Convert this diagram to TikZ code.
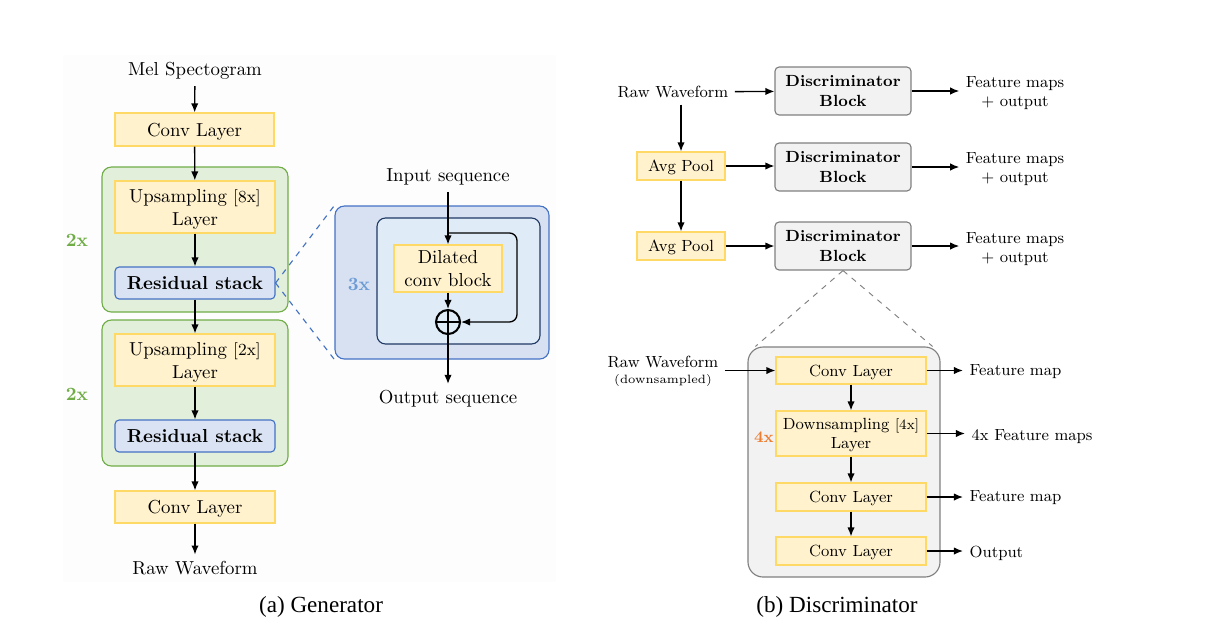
\documentclass[tikz,border=0pt]{standalone}
\usepackage{fontspec}
\newfontfamily\capfont{Liberation Serif}
\usetikzlibrary{arrows.meta,fit,calc}
\definecolor{ylwfill}{HTML}{FFF2CC}
\definecolor{ylwdraw}{HTML}{FFD966}
\definecolor{grnfill}{HTML}{E2EFDA}
\definecolor{grndraw}{HTML}{70AD47}
\definecolor{bluefill}{HTML}{DAE3F3}
\definecolor{bluedraw}{HTML}{4472C4}
\definecolor{zoomfill}{HTML}{D7E1F2}
\definecolor{innerfill}{HTML}{DFEBF7}
\definecolor{innerdraw}{HTML}{203864}
\definecolor{grayfill}{HTML}{F2F2F2}
\definecolor{graydraw}{HTML}{808080}
\definecolor{threex}{HTML}{6C9BD5}
\definecolor{orng}{HTML}{ED7D31}
\def\pxu{0.532pt}
\begin{document}
\begin{tikzpicture}[x=0.532pt,y=-0.532pt,
  bx/.style n args={2}{minimum width=#1*\pxu, minimum height=#2*\pxu},
  gtext/.style={font=\fontsize{10}{12.2}\selectfont, align=center},
  dtext/.style={font=\fontsize{8.6}{10.4}\selectfont, align=center},
  ybox/.style={fill=ylwfill, draw=ylwdraw, line width=0.6pt, inner sep=0pt, align=center, text depth=0pt},
  rbox/.style={fill=bluefill, draw=bluedraw, line width=0.6pt, inner sep=0pt, rounded corners=2.2pt, align=center, text depth=0pt, font=\fontsize{10}{12}\selectfont\bfseries},
  gbox/.style={fill=grnfill, draw=grndraw, line width=0.6pt, inner sep=0pt, rounded corners=5pt},
  dbox/.style={fill=grayfill, draw=graydraw, line width=0.6pt, inner sep=0pt, rounded corners=2.2pt, align=center, text depth=0pt, font=\fontsize{8.6}{10.4}\selectfont\bfseries},
  arr/.style={-{Latex[length=4.8pt,width=3.9pt]}, line width=0.7pt},
  mult/.style={font=\fontsize{10}{12}\selectfont\bfseries},
  captext/.style={font=\capfont\fontsize{12.3}{14}\selectfont}]
\path[use as bounding box] (0,0) rectangle (1211,638);
\fill[black!0.7] (63,55) rectangle (556,582);

% ---------------- Generator ----------------
\node[gbox, fit={(102,167) (288,312)}] (g1) {};
\node[gbox, fit={(102,320) (288,466)}] (g2) {};
\node[mult, text=grndraw] (m1) at (77,240) {2x};
\node[mult, text=grndraw] (m2) at (77,394) {2x};

\node[gtext] (mel) at (195,71) {Mel Spectogram};
\node[ybox, gtext, bx={159}{33}] (conv1) at (194.5,129.5) {Conv Layer};
\node[ybox, gtext, bx={160}{52}] (up1) at (195,207) {Upsampling {\small[8x]}\\Layer};
\node[rbox, bx={160}{32}] (rs1) at (195,283) {Residual stack};
\node[ybox, gtext, bx={160}{52}] (up2) at (195,360) {Upsampling {\small[2x]}\\Layer};
\node[rbox, bx={160}{32}] (rs2) at (195,436) {Residual stack};
\node[ybox, gtext, bx={160}{32}] (conv2) at (195,507) {Conv Layer};
\node[gtext] (rawg) at (195,568) {Raw Waveform};

\draw[arr] (mel) -- (conv1);
\draw[arr] (conv1) -- (up1);
\draw[arr] (up1) -- (rs1);
\draw[arr] (rs1) -- (up2);
\draw[arr] (up2) -- (rs2);
\draw[arr] (rs2) -- (conv2);
\draw[arr] (conv2) -- (rawg);

% residual stack zoom
\node[fill=zoomfill, draw=bluedraw, line width=0.6pt, rounded corners=5pt, inner sep=0pt, fit={(335,206) (549,359)}] (zo) {};
\node[fill=innerfill, draw=innerdraw, line width=0.6pt, rounded corners=4.5pt, inner sep=0pt, fit={(377,218) (540,344)}] (zi) {};
\draw[bluedraw, dashed, line width=0.6pt] (rs1.east) -- (zo.north west);
\draw[bluedraw, dashed, line width=0.6pt] (rs1.east) -- (zo.south west);
\node[mult, text=threex] (m3) at (359,284) {3x};
\node[gtext] (inseq) at (448,177) {Input sequence};
\node[ybox, gtext, bx={108}{47}] (dil) at (448,268.5) {Dilated\\conv block};
\node[circle, draw, line width=1.1pt, minimum size=24*\pxu, inner sep=0pt] (plus) at (448,322) {};
\draw[line width=1.1pt] (plus.north) -- (plus.south) (plus.west) -- (plus.east);
\node[gtext] (outseq) at (448,399) {Output sequence};
\coordinate (split) at (448,233);
\draw[arr] (inseq) -- (dil);
\draw[arr] (dil) -- (plus);
\draw[arr, rounded corners=4pt] (split) -- (517,233) -- (517,322) -- (plus.east);
\draw[arr] (plus) -- (outseq);

\node[captext] (capa) at (321,607) {(a) Generator};

% ---------------- Discriminator ----------------
\node[dtext] (rw) at (673,92) {Raw Waveform};
\node[dbox, bx={136}{48}] (d1) at (843,91) {Discriminator\\Block};
\node[dbox, bx={136}{48}] (d2) at (843,167) {Discriminator\\Block};
\node[dbox, bx={136}{48}] (d3) at (843,246) {Discriminator\\Block};
\node[ybox, dtext, bx={88}{28}] (ap1) at (681,166) {Avg Pool};
\node[ybox, dtext, bx={88}{28}] (ap2) at (681,246) {Avg Pool};
\node[dtext] (f1) at (1015,93) {Feature maps\\+ output};
\node[dtext] (f2) at (1015,169) {Feature maps\\+ output};
\node[dtext] (f3) at (1015,249) {Feature maps\\+ output};

\draw[arr] (rw) -- (d1);
\draw[arr] (d1) -- (d1 -| f1.west);
\draw[arr] (rw.south -| ap1.north) -- (ap1);
\draw[arr] (ap1) -- (ap2);
\draw[arr] (ap1) -- (ap1 -| d2.west);
\draw[arr] (ap2) -- (ap2 -| d3.west);
\draw[arr] (d2) -- (d2 -| f2.west);
\draw[arr] (d3) -- (d3 -| f3.west);

% detail
\node[fill=grayfill, draw=graydraw, line width=0.6pt, rounded corners=8pt, inner sep=0pt, fit={(748,347) (940,577)}] (det) {};
\draw[graydraw, dashed, line width=0.5pt] (d3.south) -- ($(det.north west)+(8,0)$);
\draw[graydraw, dashed, line width=0.5pt] (d3.south) -- ($(det.north east)+(-8,0)$);
\node[ybox, dtext, bx={150}{27}] (c1) at (851,370.5) {Conv Layer};
\node[ybox, dtext, bx={150}{45}] (ds) at (851,433.5) {Downsampling {\fontsize{7.6}{9}\selectfont[4x]}\\Layer};
\node[ybox, dtext, bx={150}{28}] (c3) at (851,497) {Conv Layer};
\node[ybox, dtext, bx={150}{28}] (c4) at (851,551) {Conv Layer};
\node[font=\fontsize{8.6}{10}\selectfont\bfseries, text=orng] (m4) at (764,437) {4x};
\node[dtext] (rw2) at (663,371) {Raw Waveform\\[-2pt]{\fontsize{6.4}{7}\selectfont (downsampled)}};
\node[dtext, anchor=west] (o1) at (963,372) {Feature map};
\node[dtext, anchor=west] (o2) at (965,437) {4x Feature maps};
\node[dtext, anchor=west] (o3) at (963,498) {Feature map};
\node[dtext, anchor=west] (o4) at (963,553) {Output};

\draw[arr] (rw2.east |- c1.west) -- (c1.west);
\draw[arr] (c1) -- (ds);
\draw[arr] (ds) -- (c3);
\draw[arr] (c3) -- (c4);
\draw[arr] (c1.east) -- (c1.east -| o1.west);
\draw[arr] (ds.east) -- (ds.east -| o2.west);
\draw[arr] (c3.east) -- (c3.east -| o3.west);
\draw[arr] (c4.east) -- (c4.east -| o4.west);

\node[captext] (capb) at (837,607) {(b) Discriminator};
\end{tikzpicture}
\end{document}
